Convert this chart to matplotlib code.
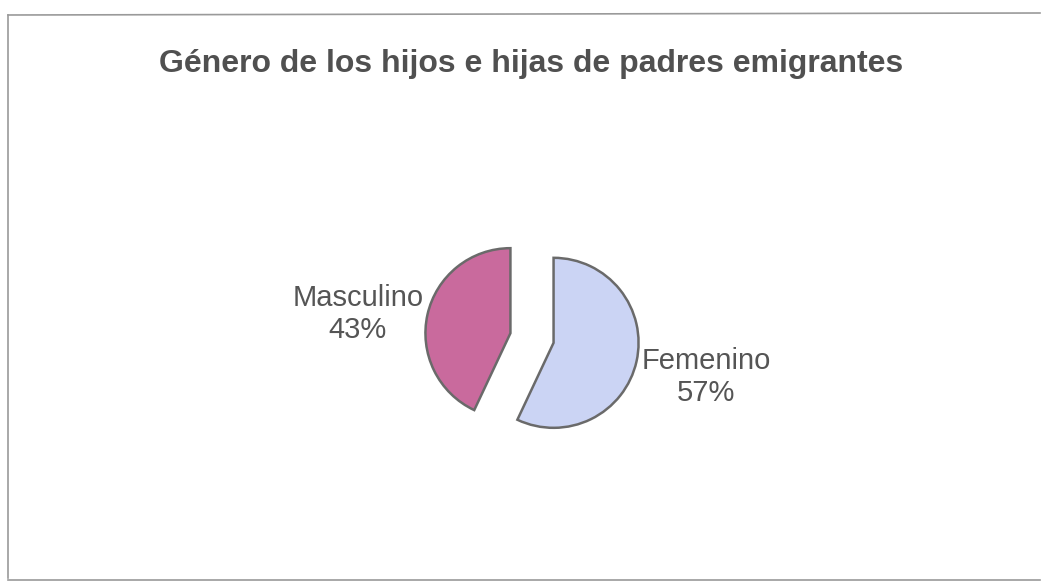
import matplotlib
matplotlib.use("Agg")
import matplotlib.pyplot as plt
from matplotlib.lines import Line2D

plt.rcParams['font.family'] = ['Liberation Sans', 'DejaVu Sans']

title = "Género de los hijos e hijas de padres emigrantes"
categories = ["Femenino", "Masculino"]
percentages = [57, 43]
colors = ["#cbd4f4", "#c96a9d"]

W, H = 1047, 587
fig = plt.figure(figsize=(W / 100, H / 100), dpi=100)
ax = fig.add_axes([0, 0, 1, 1])

scale = 85.0  # pixels per radius unit
cx, cy = 532, 338
labels = [f"{c}\n{p}%" for c, p in zip(categories, percentages)]

wedges, texts = ax.pie(
    percentages, labels=labels, colors=colors, startangle=90, counterclock=False,
    explode=[0.26, 0.26], labeldistance=1.84,
    wedgeprops=dict(edgecolor="#6a6a6a", linewidth=1.8),
    textprops=dict(fontsize=21, color="#555555", linespacing=1.2),
)
for t in texts:
    t.set_ha("center")
    t.set_va("center")
    t.set_multialignment("center")
# nudge the left label slightly down as in the original
x0, y0 = texts[1].get_position()
texts[1].set_position((x0, y0 - 15 / scale))

ax.set_aspect("auto")
ax.set_xlim(-cx / scale, (W - cx) / scale)
ax.set_ylim(-(H - cy) / scale, cy / scale)
ax.axis("off")

fig.text(531 / W, 1 - 64 / H, title, ha="center", va="center",
         fontsize=23, fontweight="bold", color="#505050")

def fl(x1, y1, x2, y2):
    fig.add_artist(Line2D([x1 / W, x2 / W], [1 - y1 / H, 1 - y2 / H],
                          transform=fig.transFigure, color="#9a9a9a", linewidth=1.2))

fl(8, 15, 1040, 13)
fl(8, 15, 8, 578)
fl(8, 580, 1040, 580)

fig.savefig("out.png", dpi=100)
